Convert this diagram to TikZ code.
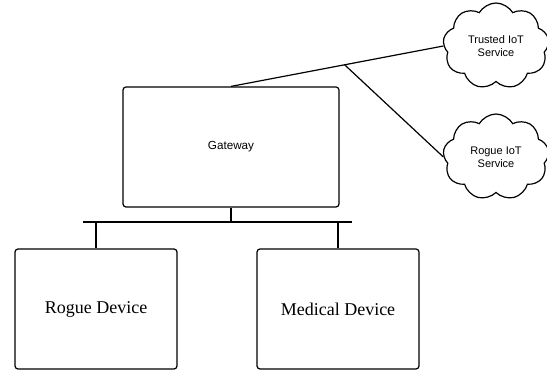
\documentclass[tikz,border=0pt]{standalone}
\usepackage{fontspec}
\newfontfamily\labelsans{Liberation Sans}
\newfontfamily\labelserif{Liberation Serif}
\usetikzlibrary{shapes.symbols,calc}
\begin{document}
\begin{tikzpicture}[x=1pt,y=-1pt,line width=1.2pt,
  box/.style={draw,rectangle,rounded corners=3pt,inner sep=0pt},
  service/.style={draw,cloud,cloud puffs=9,cloud puff arc=120,aspect=1.25,
    minimum width=106pt,minimum height=86pt,inner sep=0pt,align=center,
    font=\labelsans\fontsize{11}{13}\selectfont},
  device/.style={box,minimum width=162pt,minimum height=120pt,
    font=\labelserif\fontsize{18}{21}\selectfont}]
  \useasboundingbox (0,0) rectangle (547,371);

  % gateway and the two devices below it
  \node[box,minimum width=216pt,minimum height=120pt,
        font=\labelsans\fontsize{11.7}{14}\selectfont] (gw) at (231,147) {Gateway};
  \node[device] (rogue) at (96,309) {Rogue Device};
  \node[device] (medical) at (338,309) {Medical Device};

  % cloud services
  \node[service] (trusted) at (496,46) {Trusted IoT\\Service};
  \node[service] (rogueSvc) at (496,157) {Rogue IoT\\Service};

  % local bus
  \coordinate (busL) at (83,222);
  \coordinate (busR) at (352,222);
  \draw (busL) -- (busR);
  \draw (gw.south) -- (gw.south |- busL);
  \draw (rogue.north) -- (rogue.north |- busL);
  \draw (medical.north) -- (medical.north |- busL);

  % uplink to the services
  \coordinate (split) at ($(gw.north)!0.535!(trusted.west)$);
  \draw (gw.north) -- (trusted.west);
  \draw (split) -- (rogueSvc.west);
\end{tikzpicture}
\end{document}
